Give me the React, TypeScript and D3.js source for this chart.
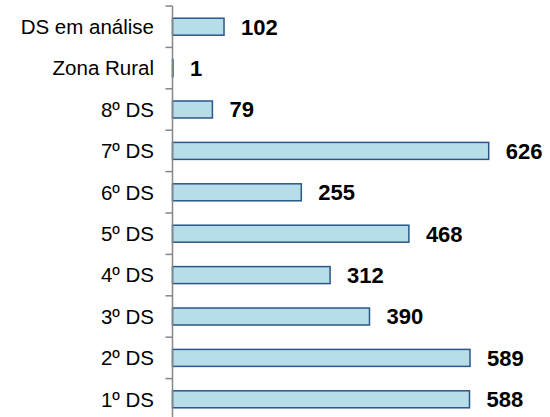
import React, { useEffect, useRef } from 'react';
import * as d3 from 'd3';

// categories from top to bottom
const categories = ['DS em análise', 'Zona Rural', '8º DS', '7º DS', '6º DS', '5º DS', '4º DS', '3º DS', '2º DS', '1º DS'];
const values = [102, 1, 79, 626, 255, 468, 312, 390, 589, 588];

const App = () => {
  const ref = useRef<SVGSVGElement>(null);

  useEffect(() => {
    const svg = d3.select(ref.current);
    svg.selectAll('*').remove();

    const axisX = 172.5;
    const top = 6;
    const bottom = 420;

    const y = d3.scaleBand<string>()
      .domain(categories)
      .range([top, bottom])
      .paddingInner(0.59)
      .paddingOuter(0.295);

    const x = d3.scaleLinear()
      .domain([0, 588])
      .range([axisX, axisX + 297]);

    const g = svg.append('g');

    // bars
    g.selectAll('rect.bar')
      .data(values)
      .join('rect')
      .attr('class', 'bar')
      .attr('x', x(0))
      .attr('y', (d, i) => y(categories[i])!)
      .attr('width', d => x(d) - x(0))
      .attr('height', y.bandwidth())
      .attr('fill', '#b7dee8')
      .attr('stroke', '#2a568a')
      .attr('stroke-width', 1.5);

    // value labels
    g.selectAll('text.val')
      .data(values)
      .join('text')
      .attr('class', 'val')
      .attr('x', d => x(d) + 17)
      .attr('y', (d, i) => y(categories[i])! + y.bandwidth() / 2)
      .attr('dy', '0.36em')
      .attr('font-family', 'Liberation Sans, Arial, sans-serif')
      .attr('font-weight', 'bold')
      .attr('font-size', 22)
      .attr('fill', '#000')
      .text(d => d);

    // category axis
    const step = y.step();
    const axis = g.append('g');
    axis.append('line')
      .attr('x1', axisX).attr('x2', axisX)
      .attr('y1', top).attr('y2', bottom)
      .attr('stroke', '#868686')
      .attr('stroke-width', 1.5);

    d3.range(categories.length + 1).forEach(i => {
      axis.append('line')
        .attr('x1', axisX - 7).attr('x2', axisX)
        .attr('y1', top + i * step).attr('y2', top + i * step)
        .attr('stroke', '#868686')
        .attr('stroke-width', 1.5);
    });

    axis.selectAll('text')
      .data(categories)
      .join('text')
      .attr('x', 154)
      .attr('y', d => y(d)! + y.bandwidth() / 2)
      .attr('dy', '0.36em')
      .attr('text-anchor', 'end')
      .attr('font-family', 'Liberation Sans, Arial, sans-serif')
      .attr('font-size', 20.5)
      .attr('fill', '#000')
      .text(d => d);
  }, []);

  return (
    <svg
      ref={ref}
      width={550}
      height={417}
      style={{ position: 'absolute', left: 0, top: 0, background: '#fff' }}
    />
  );
};

export default App;
